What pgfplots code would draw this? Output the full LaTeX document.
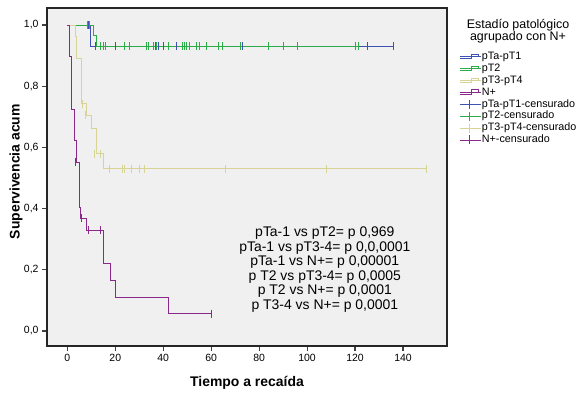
\documentclass[border=0pt]{standalone}
\usepackage{fontspec}
\setmainfont{Liberation Sans}
\usepackage{pgfplots}
\pgfplotsset{compat=1.18}
\definecolor{cblue}{RGB}{62,82,178}
\definecolor{cgreen}{RGB}{44,172,72}
\definecolor{cbeige}{RGB}{216,212,150}
\definecolor{cpurple}{RGB}{138,40,140}
\definecolor{bgc}{RGB}{240,240,240}
\begin{document}
\begin{tikzpicture}
\useasboundingbox (-47bp,-49bp) rectangle (531bp,346bp);
\begin{axis}[
  scale only axis, width=400bp, height=338bp,
  xmin=-8.47, xmax=158.35, ymin=-0.049, ymax=1.0556,
  clip mode=individual,
  axis background/.style={fill=bgc},
  axis line style={draw=black!85, line width=1.1bp},
  tick pos=left, tick align=outside,
  major tick length=5bp,
  every tick/.style={draw=black!75, line width=1.1bp},
  xtick={0,20,...,140}, ytick={0,0.2,...,1.0},
  /pgf/number format/assume math mode=true,
  yticklabel style={/pgf/number format/.cd, fixed, fixed zerofill, precision=1, use comma},
  ticklabel style={font=\fontsize{10.5}{12}\selectfont},
  xlabel={\textbf{Tiempo a recaída}},
  ylabel={\textbf{Supervivencia acum}},
  xlabel style={at={(axis description cs:0.5,-0.1095)}, anchor=center, font=\fontsize{14}{16}\selectfont},
  ylabel style={at={(axis description cs:-0.0775,0.516)}, anchor=center, font=\fontsize{14}{16}\selectfont},
  legend style={draw=none, fill=none, at={(axis description cs:1.031,0.873)}, anchor=north west,
    inner sep=0pt, row sep=0.8bp, font=\fontsize{10.8}{12}\selectfont,
    nodes={inner sep=0.3bp, text height=8bp, text depth=2.5bp}},
  legend cell align=left,
]
% step curves
\addplot[const plot, cblue, line width=1bp, legend image code/.code={\draw[draw=cblue,line width=0.9bp] (0bp,-2bp)--(11bp,-2bp)--(11bp,2.5bp)--(18bp,2.5bp)--(18bp,0.5bp); \path (0bp,0bp)--(21bp,0bp);}]
  coordinates {(0,1) (9.8,0.931) (136,0.931)};
\addlegendentry{pTa-pT1}
\addplot[const plot, cgreen, line width=1bp, legend image code/.code={\draw[draw=cgreen,line width=0.9bp] (0bp,-2bp)--(11bp,-2bp)--(11bp,2.5bp)--(18bp,2.5bp)--(18bp,0.5bp); \path (0bp,0bp)--(21bp,0bp);}]
  coordinates {(0,1) (10.8,0.967) (12.2,0.931) (121.3,0.931)};
\addlegendentry{pT2}
\addplot[const plot, cbeige, line width=1bp, legend image code/.code={\draw[draw=cbeige,line width=0.9bp] (0bp,-2bp)--(11bp,-2bp)--(11bp,2.5bp)--(18bp,2.5bp)--(18bp,0.5bp); \path (0bp,0bp)--(21bp,0bp);}]
  coordinates {(0,1) (3.5,0.964) (3.9,0.89) (6.0,0.743) (8.1,0.705) (10.1,0.661) (12.0,0.579) (15.0,0.530) (150,0.530)};
\addlegendentry{pT3-pT4}
\addplot[const plot, cpurple, line width=1bp, legend image code/.code={\draw[draw=cpurple,line width=0.9bp] (0bp,-2bp)--(11bp,-2bp)--(11bp,2.5bp)--(18bp,2.5bp)--(18bp,0.5bp); \path (0bp,0bp)--(21bp,0bp);}]
  coordinates {(0,1) (0.8,0.896) (1.9,0.725) (2.9,0.621) (3.9,0.552) (5.0,0.404) (5.5,0.368) (8.1,0.330) (15.0,0.219) (18.1,0.166) (20.2,0.111) (42.2,0.057) (60.3,0.057)};
\addlegendentry{N+}
% censored marks
\addplot[cblue, only marks, mark=|, mark size=4bp, mark options={draw=cblue, line width=1bp}, legend image code/.code={\draw[draw=cblue,line width=0.9bp] (0bp,0bp)--(18bp,0bp) (9bp,-4.5bp)--(9bp,4.5bp); \path (0bp,0bp)--(21bp,0bp);}]
  coordinates {(8.8,1) (11.8,0.931) (20.2,0.931) (36.6,0.931) (37.9,0.931) (40,0.931) (45.7,0.931) (73,0.931) (125,0.931) (136,0.931)};
\addlegendentry{pTa-pT1-censurado}
\addplot[cgreen, only marks, mark=|, mark size=4bp, mark options={draw=cgreen, line width=1bp}, legend image code/.code={\draw[draw=cgreen,line width=0.9bp] (0bp,0bp)--(18bp,0bp) (9bp,-4.5bp)--(9bp,4.5bp); \path (0bp,0bp)--(21bp,0bp);}]
  coordinates {(8.5,1) (9.2,1) (14,0.931) (15,0.931) (16,0.931) (24,0.931) (25.9,0.931) (33.1,0.931) (33.8,0.931) (35.9,0.931) (37.3,0.931) (42.2,0.931) (48.2,0.931) (48.7,0.931) (49.9,0.931) (51,0.931) (54,0.931) (55.1,0.931) (58.2,0.931) (63.1,0.931) (64.9,0.931) (72.2,0.931) (84,0.931) (90,0.931) (96.2,0.931) (120.3,0.931) (121.3,0.931)};
\addlegendentry{pT2-censurado}
\addplot[cbeige, only marks, mark=|, mark size=4bp, mark options={draw=cbeige, line width=1bp}, legend image code/.code={\draw[draw=cbeige,line width=0.9bp] (0bp,0bp)--(18bp,0bp) (9bp,-4.5bp)--(9bp,4.5bp); \path (0bp,0bp)--(21bp,0bp);}]
  coordinates {(6.4,0.743) (7.7,0.705) (11.5,0.579) (13.9,0.579) (17.8,0.530) (22.9,0.530) (23.8,0.530) (26.8,0.530) (30,0.530) (32,0.530) (65.8,0.530) (108,0.530) (150,0.530)};
\addlegendentry{pT3-pT4-censurado}
\addplot[cpurple, only marks, mark=|, mark size=4bp, mark options={draw=cpurple, line width=1bp}, legend image code/.code={\draw[draw=cpurple,line width=0.9bp] (0bp,0bp)--(18bp,0bp) (9bp,-4.5bp)--(9bp,4.5bp); \path (0bp,0bp)--(21bp,0bp);}]
  coordinates {(3.6,0.552) (5.9,0.368) (8.8,0.330) (14,0.330) (60.3,0.057)};
\addlegendentry{N+-censurado}
\node[align=center, inner sep=0pt, font=\fontsize{14}{14.5}\selectfont] at (axis cs:107.4,0.201)
  {pTa-1 vs pT2= p 0,969\\ pTa-1 vs pT3-4= p 0,0,0001\\ pTa-1 vs N+= p 0,00001\\ p T2 vs pT3-4= p 0,0005\\ p T2 vs N+= p 0,0001\\ p T3-4 vs N+= p 0,0001};
\node[align=center, inner sep=0pt, font=\fontsize{12.5}{12.3}\selectfont] at (axis description cs:1.1775,0.932)
  {Estadío patológico\\ agrupado con N+};
\end{axis}
\end{tikzpicture}
\end{document}
